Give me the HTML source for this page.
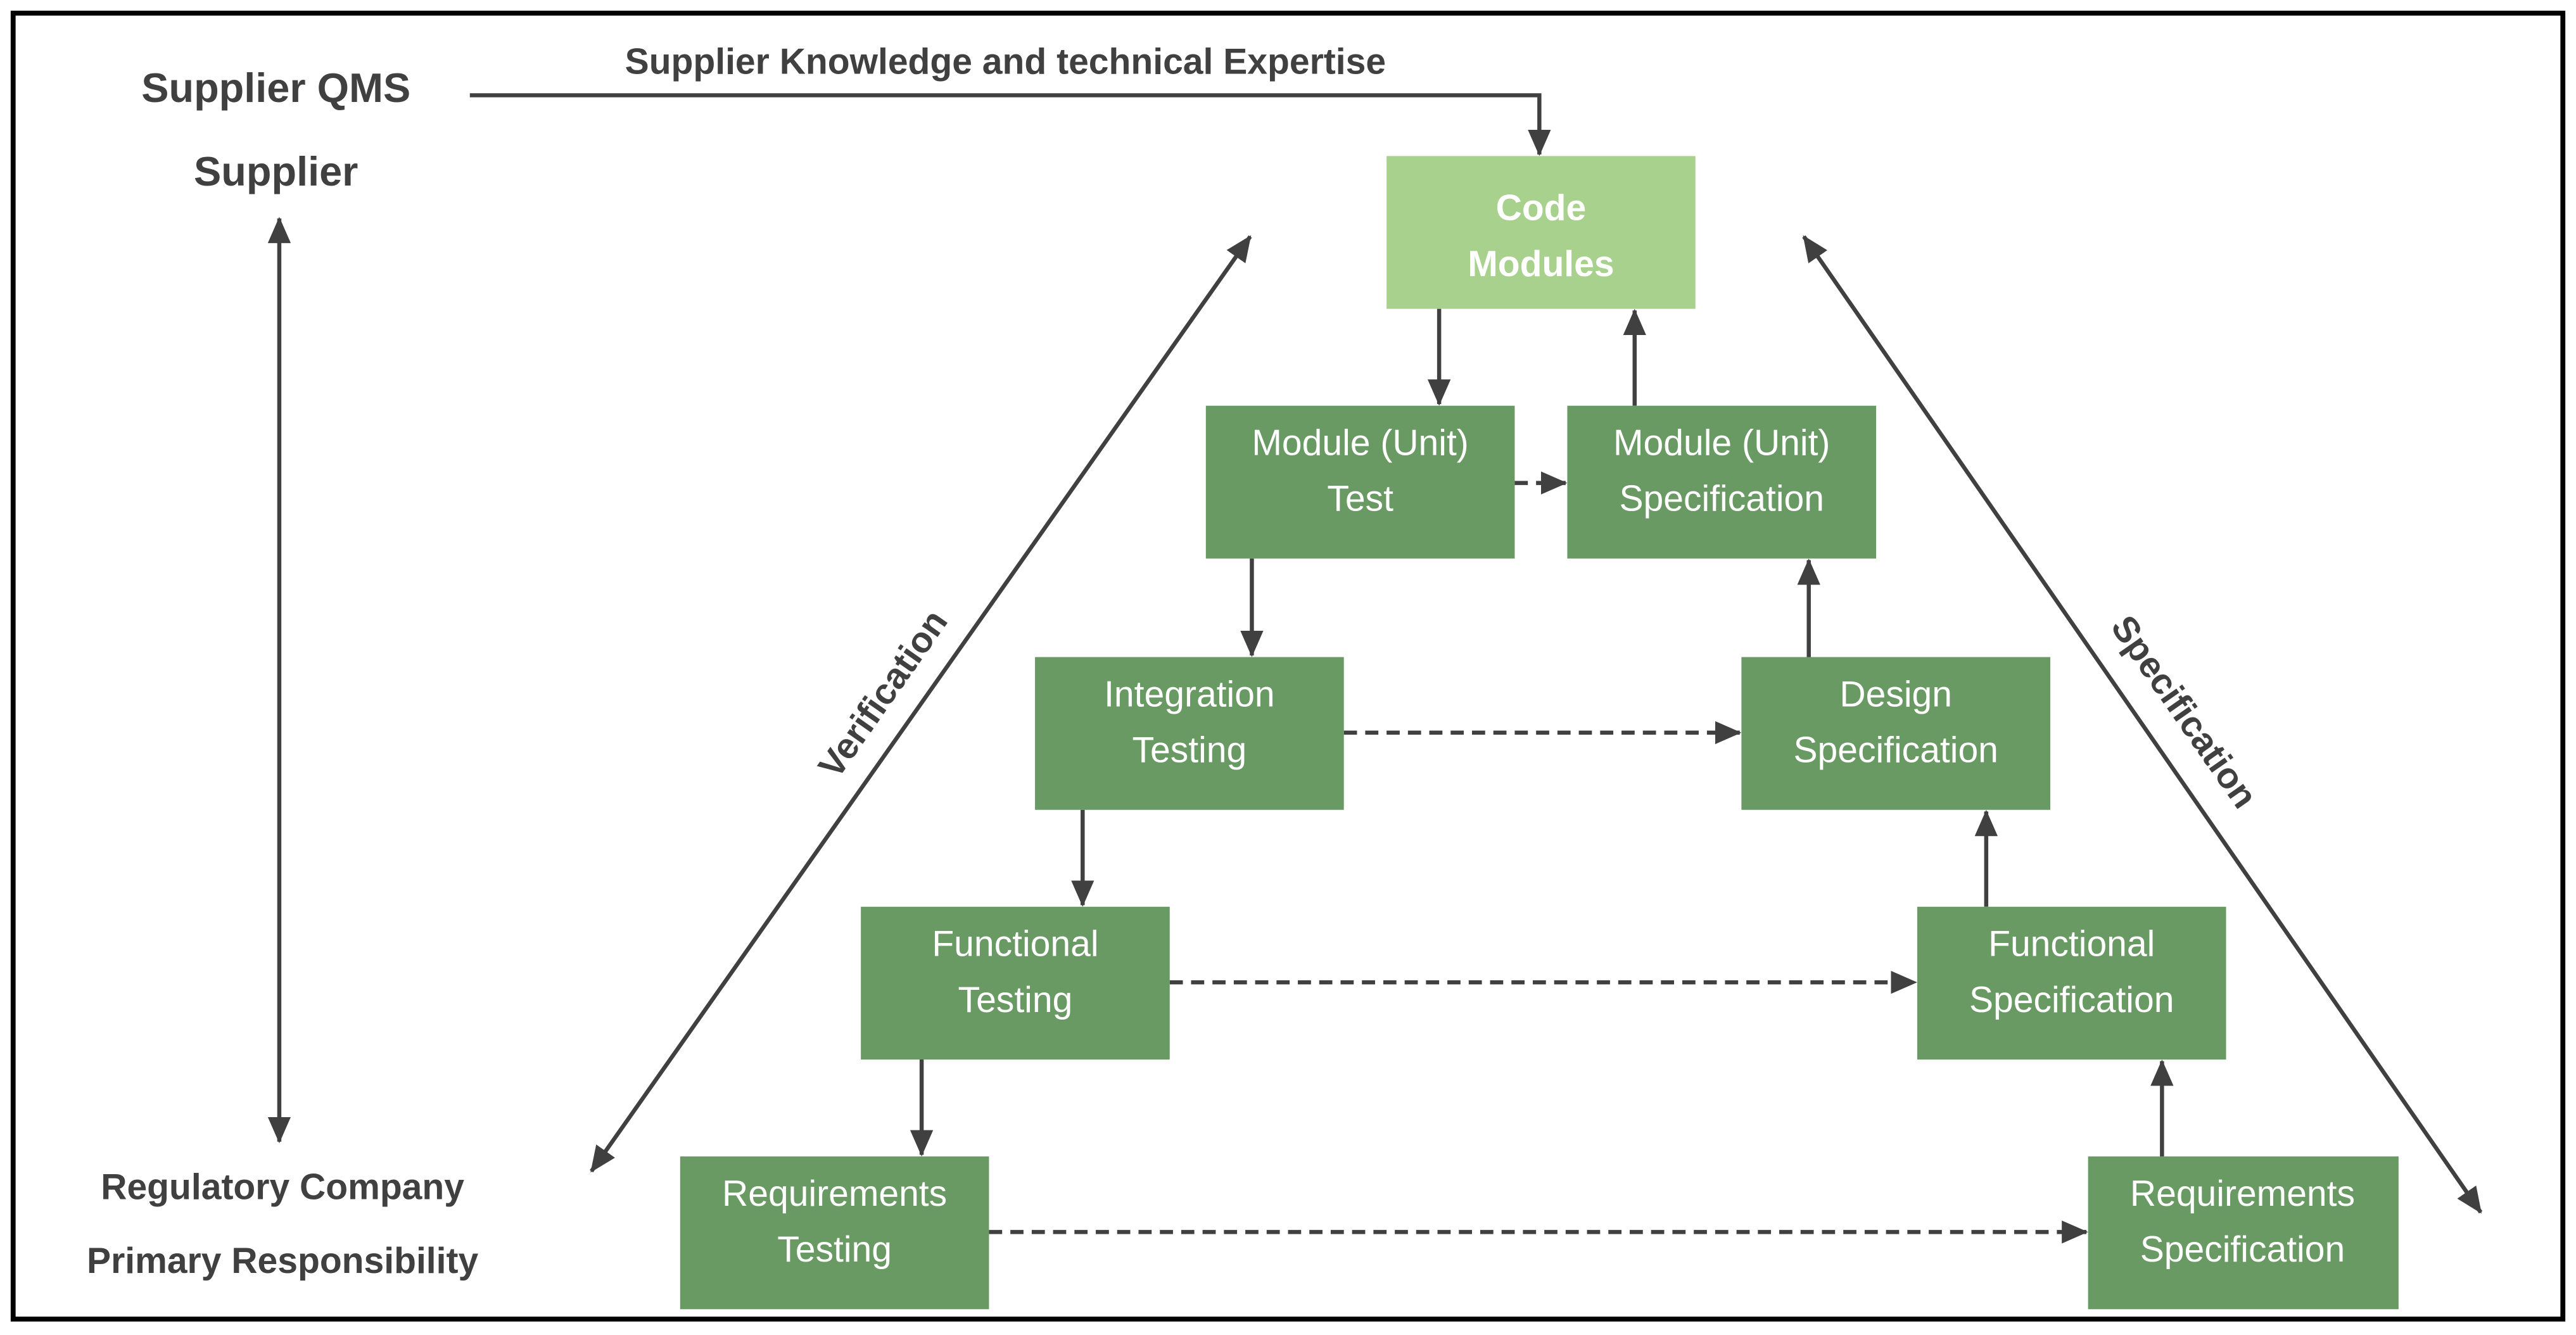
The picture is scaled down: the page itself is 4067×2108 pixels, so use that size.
<!DOCTYPE html>
<html><head><meta charset="utf-8"><style>html,body{margin:0;padding:0;background:#fff}svg{display:block}</style></head>
<body>
<svg width="4067" height="2108" viewBox="0 0 1568 812.7" preserveAspectRatio="none" xmlns="http://www.w3.org/2000/svg" font-family="Liberation Sans, sans-serif">
<defs>
<marker id="a" markerUnits="userSpaceOnUse" markerWidth="16" markerHeight="14" refX="15" refY="7" orient="auto-start-reverse"><path d="M0,0 L16,7 L0,14 z" fill="#404040"/></marker>
</defs>
<rect x="8" y="8" width="1552" height="795" fill="#fff" stroke="#000" stroke-width="3"/>
<g fill="#404040" font-weight="bold" text-anchor="middle">
<text x="168" y="62" font-size="25">Supplier QMS</text>
<text x="168" y="113" font-size="25">Supplier</text>
<text x="612" y="45" font-size="22">Supplier Knowledge and technical Expertise</text>
<text x="172" y="730" font-size="22">Regulatory Company</text>
<text x="172" y="775" font-size="22">Primary Responsibility</text>
</g>
<g stroke="#404040" stroke-width="2.5" fill="none">
<path d="M286,58 H937 V94" marker-end="url(#a)"/>
<line x1="170" y1="133" x2="170" y2="695" marker-start="url(#a)" marker-end="url(#a)"/>
<line x1="360" y1="713" x2="761" y2="144" marker-start="url(#a)" marker-end="url(#a)"/>
<line x1="1098" y1="144" x2="1510" y2="738" marker-start="url(#a)" marker-end="url(#a)"/>
<line x1="876" y1="188" x2="876" y2="246" marker-end="url(#a)"/>
<line x1="995" y1="247" x2="995" y2="189" marker-end="url(#a)"/>
<line x1="922" y1="294" x2="953" y2="294" stroke-dasharray="8,5" marker-end="url(#a)"/>
<line x1="762" y1="340" x2="762" y2="399" marker-end="url(#a)"/>
<line x1="1101" y1="400" x2="1101" y2="341" marker-end="url(#a)"/>
<line x1="818" y1="446" x2="1059" y2="446" stroke-dasharray="8,5" marker-end="url(#a)"/>
<line x1="659" y1="493" x2="659" y2="551" marker-end="url(#a)"/>
<line x1="1209" y1="552" x2="1209" y2="494" marker-end="url(#a)"/>
<line x1="712" y1="598" x2="1166" y2="598" stroke-dasharray="8,5" marker-end="url(#a)"/>
<line x1="561" y1="645" x2="561" y2="703" marker-end="url(#a)"/>
<line x1="1316" y1="704" x2="1316" y2="646" marker-end="url(#a)"/>
<line x1="602" y1="750" x2="1270" y2="750" stroke-dasharray="8,5" marker-end="url(#a)"/>
</g>
<g fill="#404040" font-weight="bold" font-size="22" text-anchor="middle">
<text transform="translate(537,422) rotate(-55)" y="8">Verification</text>
<text transform="translate(1330,433) rotate(55)" y="8">Specification</text>
</g>
<rect x="844" y="95" width="188" height="93" fill="#a9d18e"/>
<g fill="#6a9a64">
<rect x="734" y="247" width="188" height="93"/>
<rect x="954" y="247" width="188" height="93"/>
<rect x="630" y="400" width="188" height="93"/>
<rect x="1060" y="400" width="188" height="93"/>
<rect x="524" y="552" width="188" height="93"/>
<rect x="1167" y="552" width="188" height="93"/>
<rect x="414" y="704" width="188" height="93"/>
<rect x="1271" y="704" width="189" height="93"/>
</g>
<g fill="#fff" font-size="22" text-anchor="middle">
<text x="938" y="134" font-weight="bold">Code</text>
<text x="938" y="168" font-weight="bold">Modules</text>
<text x="828" y="277">Module (Unit)</text><text x="828" y="311">Test</text>
<text x="1048" y="277">Module (Unit)</text><text x="1048" y="311">Specification</text>
<text x="724" y="430">Integration</text><text x="724" y="464">Testing</text>
<text x="1154" y="430">Design</text><text x="1154" y="464">Specification</text>
<text x="618" y="582">Functional</text><text x="618" y="616">Testing</text>
<text x="1261" y="582">Functional</text><text x="1261" y="616">Specification</text>
<text x="508" y="734">Requirements</text><text x="508" y="768">Testing</text>
<text x="1365" y="734">Requirements</text><text x="1365" y="768">Specification</text>
</g>
</svg>
</body></html>
